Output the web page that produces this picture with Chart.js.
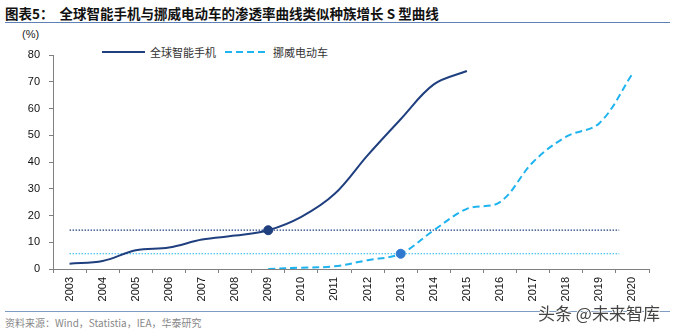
<!DOCTYPE html>
<html>
<head>
<meta charset="utf-8">
<script src="https://cdn.jsdelivr.net/npm/chart.js@4"></script>
<style>
    body { margin: 0; width: 674px; height: 335px; background: #fff; position: relative; overflow: hidden;
           font-family: "Liberation Sans", Arial, "Noto Sans CJK SC", sans-serif; }
    .title { position: absolute; left: 5px; top: 4px; font-size: 13.5px; font-weight: bold; color: #111;
             font-family: "Noto Sans CJK SC", sans-serif; white-space: nowrap; line-height: 18px; }
    .title-rule { position: absolute; left: 5px; right: 4px; top: 22px; border-top: 1.5px solid #5f80b6; }
    .unit { position: absolute; left: 22px; top: 28px; font-size: 11px; color: #222; }
    .legend { position: absolute; left: 102px; top: 44px; display: flex; align-items: center;
              font-family: "Noto Sans CJK SC", sans-serif; font-size: 11px; color: #333; }
    .legend .sample { width: 43px; height: 2px; margin-right: 5px; }
    .legend .item { margin-right: 9px; }
    #chartWrap { position: absolute; left: 0; top: 28px; width: 674px; height: 282px; }
    .foot-rule { position: absolute; left: 5px; right: 4px; top: 311px; border-top: 1.5px solid #7f9cc4; }
    .source { position: absolute; left: 5px; top: 315px; font-size: 10px; color: #888;
              font-family: "Noto Sans CJK SC", sans-serif; }
    .watermark { position: absolute; left: 538px; top: 300px; font-size: 17px; color: #444;
                 font-family: "Noto Sans CJK SC", sans-serif;
                 text-shadow: -1px 0 #fff, 1px 0 #fff, 0 -1px #fff, 0 1px #fff; }
</style>
</head>
<body>
<div class="title">图表5：&nbsp;&nbsp;全球智能手机与挪威电动车的渗透率曲线类似种族增长 S 型曲线</div>
<div class="title-rule"></div>
<div class="unit">(%)</div>
<div class="legend" id="legend"></div>
<div id="chartWrap"><canvas id="sCurveChart" width="674" height="282"></canvas></div>
<div class="foot-rule"></div>
<div class="source">资料来源：Wind，Statistia，IEA，华泰研究</div>
<div class="watermark">头条 @未来智库</div>

<script>
// Penetration rate data (%)
const years = ['2003', '2004', '2005', '2006', '2007', '2008', '2009', '2010', '2011',
               '2012', '2013', '2014', '2015', '2016', '2017', '2018', '2019', '2020'];
const seriesNames = ['全球智能手机', '挪威电动车'];
const smartphone = [2, 3, 7, 8, 11, 12.5, 14.5, 19.5, 28, 42.5, 56, 69, 74,
                    null, null, null, null, null];
const norwayEV = [null, null, null, null, null, null, 0, 0.5, 1, 3.3, 5.7, 14.5, 22.5,
                  25, 40, 49.5, 54.5, 73];
const yTicks = [0, 10, 20, 30, 40, 50, 60, 70, 80];

// Highlighted take-off points and their reference levels
const smartTakeoff = { year: '2009', value: 14.5 };
const evTakeoff = { year: '2013', value: 5.7 };
const refLineSpan = [0, 16.6]; // category index range of the dotted guides

const NAVY = '#1f3f7f';
const SKY = '#1fb3ef';
const DOT_BLUE = '#2f78d0';
const AXIS = '#808080';

document.addEventListener('DOMContentLoaded', function() {
    buildLegend();
    initializeChart();
});

function buildLegend() {
    const legend = document.getElementById('legend');
    const styles = [
        'background:' + NAVY,
        'background:repeating-linear-gradient(90deg,' + SKY + ' 0 7px,transparent 7px 11px)'
    ];
    seriesNames.forEach((name, i) => {
        const sample = document.createElement('span');
        sample.className = 'sample';
        sample.style.cssText = styles[i];
        const label = document.createElement('span');
        label.className = 'item';
        label.textContent = name;
        legend.appendChild(sample);
        legend.appendChild(label);
    });
}

function refLine(value, color) {
    return {
        data: refLineSpan.map(x => ({ x: x, y: value })),
        xAxisID: 'xRef',
        borderColor: color,
        borderWidth: 1.2,
        borderDash: [1.5, 1.5],
        pointRadius: 0,
        tension: 0,
        order: 3
    };
}

function marker(point, color) {
    return {
        type: 'scatter',
        data: [{ x: point.year, y: point.value }],
        backgroundColor: color,
        borderColor: color,
        pointRadius: 4.5,
        order: 0
    };
}

function initializeChart() {
    const ctx = document.getElementById('sCurveChart');
    new Chart(ctx, {
        type: 'line',
        data: {
            labels: years,
            datasets: [{
                label: seriesNames[0],
                data: smartphone,
                borderColor: NAVY,
                borderWidth: 2,
                pointRadius: 0,
                tension: 0.35,
                order: 1
            }, {
                label: seriesNames[1],
                data: norwayEV,
                borderColor: SKY,
                borderWidth: 2,
                borderDash: [7, 4],
                pointRadius: 0,
                tension: 0.35,
                order: 1
            },
            refLine(smartTakeoff.value, NAVY),
            refLine(evTakeoff.value, SKY),
            marker(smartTakeoff, NAVY),
            marker(evTakeoff, DOT_BLUE)]
        },
        options: {
            responsive: false,
            animation: false,
            layout: { padding: { top: 27, right: 25, left: 0, bottom: 0 } },
            plugins: { legend: { display: false }, tooltip: { enabled: false } },
            scales: {
                x: {
                    type: 'category',
                    offset: true,
                    grid: { offset: true, drawOnChartArea: false, drawTicks: true, tickLength: 4, color: AXIS },
                    border: { color: AXIS, width: 1 },
                    ticks: {
                        autoSkip: false, minRotation: 90, maxRotation: 90, padding: 4,
                        color: '#111', font: { family: '"Liberation Sans", Arial', size: 11 }
                    },
                    afterFit: function(scale) { scale.height = 41; }
                },
                xRef: {
                    type: 'linear',
                    display: false,
                    min: -0.5,
                    max: years.length - 0.5
                },
                y: {
                    min: yTicks[0],
                    max: yTicks[yTicks.length - 1],
                    afterBuildTicks: function(scale) { scale.ticks = yTicks.map(v => ({ value: v })); },
                    grid: { drawOnChartArea: false, drawTicks: true, tickLength: 4, color: AXIS },
                    border: { color: AXIS, width: 1 },
                    ticks: {
                        padding: 9, color: '#111',
                        font: { family: '"Liberation Sans", Arial', size: 11 }
                    },
                    afterFit: function(scale) { scale.width = 53; }
                }
            }
        }
    });
}
</script>
</body>
</html>
